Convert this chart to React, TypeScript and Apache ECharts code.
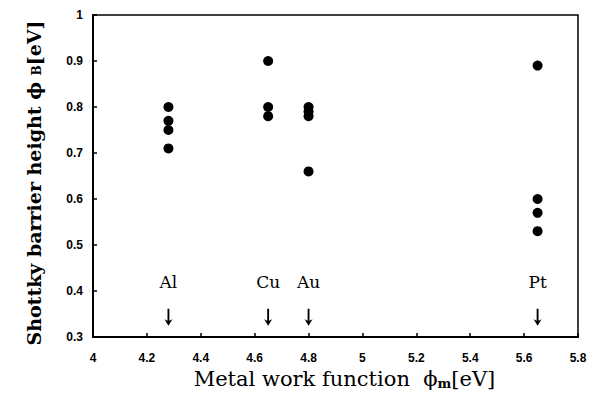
import React, { useEffect, useRef } from "react";
import * as echarts from "echarts";

const alX = [4.28, 4.28, 4.28, 4.28];
const alY = [0.80, 0.77, 0.75, 0.71];
const cuX = [4.65, 4.65, 4.65];
const cuY = [0.90, 0.80, 0.78];
const auX = [4.8, 4.8, 4.8, 4.8];
const auY = [0.80, 0.79, 0.78, 0.66];
const ptX = [5.65, 5.65, 5.65, 5.65];
const ptY = [0.89, 0.60, 0.57, 0.53];

const metalNames = ["Al", "Cu", "Au", "Pt"];
const metalX = [4.28, 4.65, 4.8, 5.65];
const nameLabelY = 0.42;
const arrowY = 0.343;

const xTicks = [4, 4.2, 4.4, 4.6, 4.8, 5, 5.2, 5.4, 5.6, 5.8];
const yTicks = [0.3, 0.4, 0.5, 0.6, 0.7, 0.8, 0.9, 1];

const zip = (xs: number[], ys: number[]) => xs.map((x, i) => [x, ys[i]]);

const SERIF = "DejaVu Serif, Liberation Serif, serif";
const ARROW = "path://M3.3 0 L4.7 0 L4.7 12 L7 10.5 L4 17 L1 10.5 L3.3 12 Z";

export default function App() {
  const ref = useRef<HTMLDivElement>(null);
  useEffect(() => {
    const chart = echarts.init(ref.current!, null, { renderer: "svg" });
    const points = [
      ...zip(alX, alY),
      ...zip(cuX, cuY),
      ...zip(auX, auY),
      ...zip(ptX, ptY),
    ];
    const tickFont = {
      color: "#000",
      fontFamily: "Liberation Sans Narrow, Liberation Sans, Arial",
      fontWeight: "bold" as const,
      fontSize: 12,
    };
    chart.setOption({
      animation: false,
      backgroundColor: "#fff",
      grid: {
        left: 93,
        right: 23,
        top: 15,
        bottom: 59,
        show: true,
        borderColor: "#000",
        borderWidth: 1.5,
        containLabel: false,
        outerBoundsMode: "none",
      },
      xAxis: {
        type: "value",
        min: xTicks[0],
        max: xTicks[xTicks.length - 1],
        interval: 0.2,
        axisLine: { show: true, onZero: false, lineStyle: { color: "#000", width: 2 } },
        axisTick: { show: true, inside: true, length: 4, lineStyle: { color: "#000", width: 1.5 } },
        splitLine: { show: false },
        axisLabel: {
          ...tickFont,
          margin: 15,
          formatter: (v: number) => String(Math.round(v * 10) / 10),
        },
        name: "Metal work function  ϕ{sub|m}[eV]",
        nameLocation: "middle",
        nameGap: 30,
        nameTextStyle: {
          color: "#000",
          fontFamily: SERIF,
          fontSize: 21,
          verticalAlign: "top",
          padding: [0, 0, 0, 18],
          rich: {
            sub: {
              fontFamily: SERIF,
              fontSize: 13,
              fontWeight: "bold",
              verticalAlign: "bottom",
              padding: [9, 0, 0, 0],
            },
          },
        },
      },
      yAxis: {
        type: "value",
        min: yTicks[0],
        max: yTicks[yTicks.length - 1],
        interval: 0.1,
        axisLine: { show: true, onZero: false, lineStyle: { color: "#000", width: 2 } },
        axisTick: { show: true, inside: true, length: 4, lineStyle: { color: "#000", width: 1.5 } },
        splitLine: { show: false },
        axisLabel: {
          ...tickFont,
          margin: 10,
          formatter: (v: number) => String(Math.round(v * 10) / 10),
        },
        name: "Shottky barrier height ϕ {sub|B}[eV]",
        nameLocation: "middle",
        nameGap: 50,
        nameRotate: 90,
        nameTextStyle: {
          color: "#000",
          fontFamily: SERIF,
          fontSize: 19,
          fontWeight: "bold",
          padding: [0, 14, 0, 0],
          rich: {
            sub: {
              fontFamily: SERIF,
              fontSize: 12,
              fontWeight: "bold",
              padding: [7, 0, 0, 0],
            },
          },
        },
      },
      series: [
        {
          type: "scatter",
          data: points,
          symbol: "circle",
          symbolSize: 10,
          itemStyle: { color: "#000", opacity: 1 },
          z: 3,
        },
        {
          type: "scatter",
          data: metalX.map((x, i) => ({ value: [x, nameLabelY], name: metalNames[i] })),
          symbolSize: 0,
          itemStyle: { color: "#000", opacity: 1 },
          label: {
            show: true,
            position: "inside",
            formatter: (p: any) => p.name,
            color: "#000",
            fontFamily: SERIF,
            fontSize: 17,
          },
        },
        {
          type: "scatter",
          data: metalX.map((x) => [x, arrowY]),
          symbol: ARROW,
          symbolSize: [8, 17],
          itemStyle: { color: "#000", opacity: 1 },
        },
      ],
    });
    return () => chart.dispose();
  }, []);
  return <div ref={ref} style={{ width: 601, height: 396, position: "fixed", left: 0, top: 0 }} />;
}
